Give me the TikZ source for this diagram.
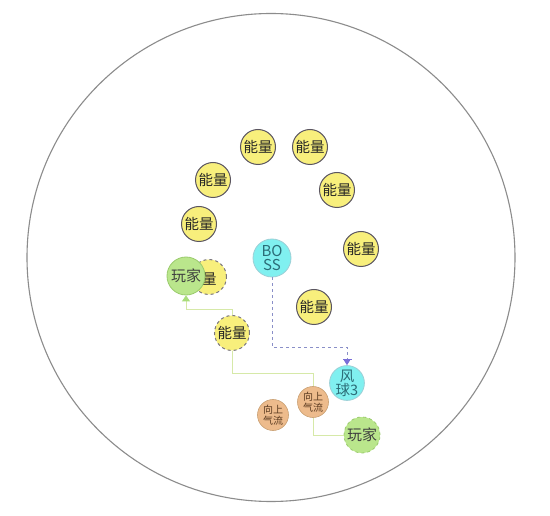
\documentclass[tikz,border=0pt]{standalone}
\usepackage{fontspec}
\setmainfont{Noto Sans CJK SC}
\usetikzlibrary{arrows.meta}
\definecolor{eyellow}{HTML}{F8EF7C}
\definecolor{eborder}{HTML}{5A5560}
\definecolor{bcyan}{HTML}{80F0F0}
\definecolor{bborder}{HTML}{9CCFD6}
\definecolor{btext}{HTML}{2B6C77}
\definecolor{pgreen}{HTML}{BAE68C}
\definecolor{pborder}{HTML}{9ACB6C}
\definecolor{uorange}{HTML}{EDBB8C}
\definecolor{uborder}{HTML}{C9A073}
\definecolor{utext}{HTML}{5A3A20}
\definecolor{gline}{HTML}{D6E9A8}
\definecolor{garrow}{HTML}{A8DC7A}
\definecolor{bline}{HTML}{8A8FC8}
\definecolor{barrow}{HTML}{7A6FD8}
\begin{document}
\begin{tikzpicture}[x=1pt,y=-1pt,
  energy/.style={circle,draw=eborder,line width=1pt,fill=eyellow,minimum size=35pt,inner sep=0pt,text=black!85,font=\fontsize{14.5}{15}\selectfont},
  energyd/.style={energy,dashed,draw=eborder!80},
  boss/.style={circle,draw=bborder,line width=0.8pt,fill=bcyan,minimum size=38pt,inner sep=0pt,text=btext,align=center,font=\fontsize{15}{14}\selectfont},
  wind/.style={boss,minimum size=34pt,font=\fontsize{14.5}{14}\selectfont},
  player/.style={circle,draw=pborder,line width=0.8pt,fill=pgreen,minimum size=38pt,inner sep=0pt,text=black!75,font=\fontsize{15}{15}\selectfont},
  playerd/.style={player,dashed,minimum size=36pt},
  updraft/.style={circle,draw=uborder,line width=0.6pt,fill=uorange,minimum size=31pt,inner sep=0pt,text=utext,align=center,font=\fontsize{10}{10.5}\selectfont},
  gpath/.style={draw=gline,line width=0.9pt},
  bpath/.style={draw=bline,line width=0.9pt,dashed},
]
\useasboundingbox (0,0) rectangle (550,516);
\fill[white] (0,0) rectangle (550,516);
\draw[draw=black!45,line width=1.1pt] (271,257.5) circle[radius=244];

\node[energy] (e1) at (258,147) {能量};
\node[energy] (e2) at (310,147) {能量};
\node[energy] (e3) at (213,180) {能量};
\node[energy] (e4) at (337,190) {能量};
\node[energy] (e5) at (199,224) {能量};
\node[energy] (e6) at (361,249) {能量};
\node[energy] (e7) at (314,307) {能量};
\node[boss] (boss) at (272,258) {BO\\SS};
\node[energyd,text width=14pt,align=right] (eh) at (209,277) {\hfill 量};
\node[player] (p1) at (186,276) {玩家};
\node[energyd] (e8) at (232,333) {能量};
\node[wind] (w) at (347,383) {风\\球3};
\node[updraft] (u1) at (313,402) {向上\\气流};
\node[updraft] (u2) at (273,415) {向上\\气流};
\node[playerd] (p2) at (362,435) {玩家};

\coordinate (k1) at (347,347);
\coordinate (k2) at (313,373);
\coordinate (k3) at (186,309);

\draw[bpath,-{Bar[width=9pt,line width=1pt,sep=0pt,color=barrow]Triangle[width=6pt,length=5pt,color=barrow]}] (boss.south) |- (k1) -- (w.north);
\draw[gpath] (e8.south) |- (k2) -- (u1.north);
\draw[gpath] (u1.south) |- (p2.west);
\draw[gpath,-{Triangle[width=8pt,length=6pt,color=garrow]}] (e8.north) |- (k3) -- (p1.south);
\end{tikzpicture}
\end{document}
